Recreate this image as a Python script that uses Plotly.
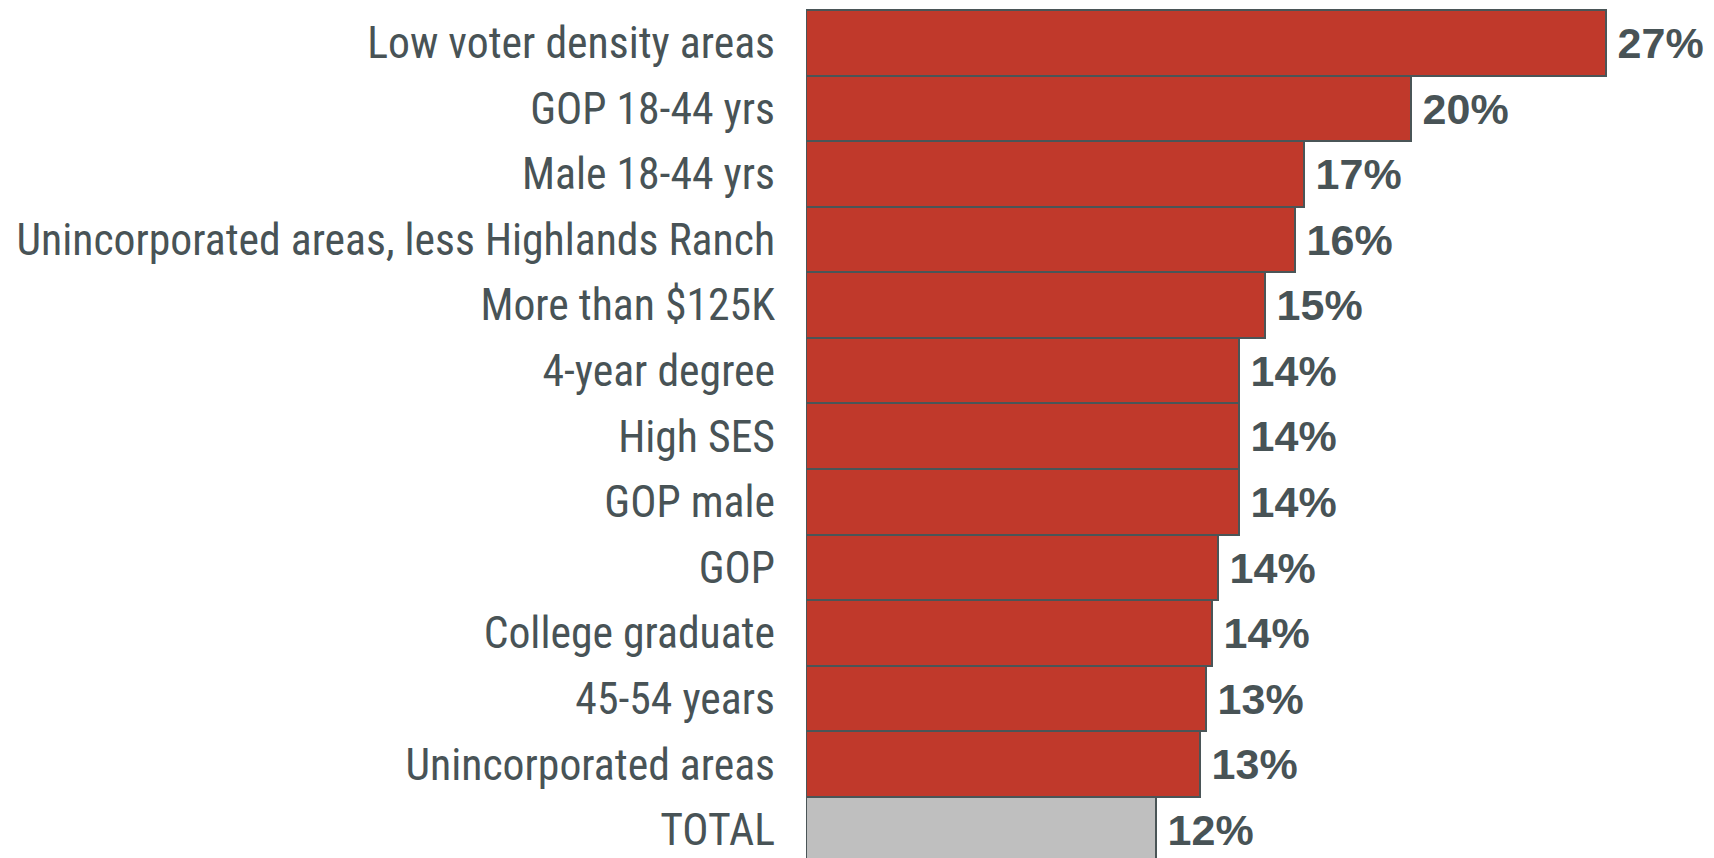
import plotly.graph_objects as go

# ----------------------------------------------------------------------------------------------------------------------------------
# Data (top to bottom)

categories = [
    "Low voter density areas",
    "GOP 18-44 yrs",
    "Male 18-44 yrs",
    "Unincorporated areas, less Highlands Ranch",
    "More than $125K",
    "4-year degree",
    "High SES",
    "GOP male",
    "GOP",
    "College graduate",
    "45-54 years",
    "Unincorporated areas",
    "TOTAL",
]
values = [27.0, 20.4, 16.8, 16.5, 15.5, 14.6, 14.6, 14.6, 13.9, 13.7, 13.5, 13.3, 11.8]
value_labels = ["27%", "20%", "17%", "16%", "15%", "14%", "14%", "14%", "14%", "14%", "13%", "13%", "12%"]

red = "#c0392b"
grey = "#bfbfbf"
text_col = "#485356"

colors = [grey if c == "TOTAL" else red for c in categories]

# ----------------------------------------------------------------------------------------------------------------------------------
# Plot

fig = go.Figure(go.Bar(
    x=values,
    y=categories,
    orientation="h",
    marker=dict(color=colors, line=dict(color="#4a5557", width=2)),
    text=value_labels,
    textposition="outside",
    textfont=dict(family="Liberation Sans, Arial, sans-serif", size=43, color=text_col),
    texttemplate="<b>\u2009%{text}</b>",
    cliponaxis=False,
))

# page body adds 8px, so the figure is 8px smaller than the window
fig.update_layout(
    width=1706,
    height=850,
    margin=dict(l=798, r=0, t=0, b=0),
    paper_bgcolor="white",
    plot_bgcolor="rgba(0,0,0,0)",
    bargap=0,
    showlegend=False,
    xaxis=dict(range=[0, 30.64], visible=False, fixedrange=True),
    yaxis=dict(
        range=[12.43, -0.53],
        showgrid=False,
        zeroline=False,
        ticks="",
        ticklabelstandoff=30,
        tickfont=dict(family="Roboto Condensed, Arial Narrow, sans-serif", size=43.7, color=text_col),
    ),
)

fig.write_html("out.html")
